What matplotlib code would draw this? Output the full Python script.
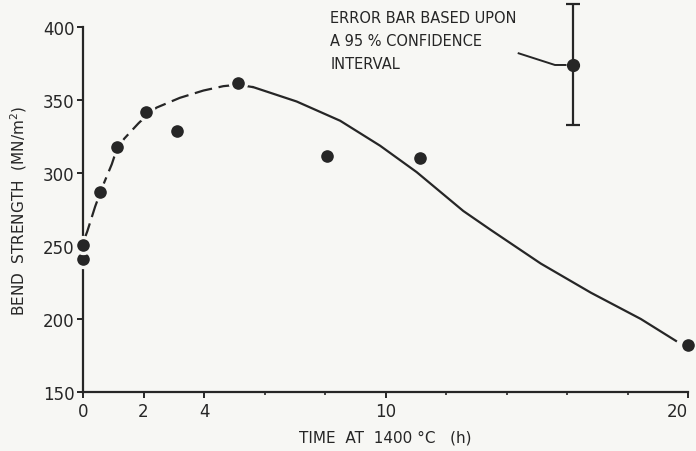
import matplotlib
matplotlib.use("Agg")
import matplotlib.pyplot as plt

# measured points (time h, bend strength MN/m2)
time_h = [0.0, 0.0, 0.56, 1.11, 2.08, 3.1, 5.13, 8.07, 11.14, 20.0]
strength = [241, 251, 287, 318, 342, 329, 361.5, 312, 310, 182]

# error bar example point
err_t = 16.2
err_val = 374
err_lo = 41
err_hi = 42

# hand-drawn trend curve
curve_t = [0.03, 0.14, 0.40, 0.56, 0.69, 0.95, 1.11, 1.36, 1.83, 2.08, 2.43,
           3.2, 3.98, 4.64, 5.13, 5.63, 7.06, 8.5, 9.82, 11.03, 12.57, 13.48,
           15.13, 16.79, 18.44, 19.6]
curve_v = [254, 260, 277, 286, 293, 306, 316, 323.5, 334, 339, 344.8,
           351.5, 356.5, 359.5, 360.5, 358.8, 349, 335.8, 318.7, 300.6, 274, 261,
           238, 218, 200, 185]
dash_end = 16  # curve index where dashes stop

xticks = [0, 2, 4, 10, 20]
xminor = [6, 8, 12, 14, 16, 18]
yticks = [150, 200, 250, 300, 350, 400]

ink = "#262626"
bg = "#f7f7f4"

fig = plt.figure(figsize=(6.96, 4.52), dpi=100, facecolor=bg)
ax = fig.add_axes([0.1193, 0.1305, 0.8693, 0.8075], facecolor=bg)

ax.plot(curve_t[:dash_end], curve_v[:dash_end], color=ink, lw=1.6,
        linestyle=(0, (8, 3)), clip_on=False, zorder=2)
ax.plot(curve_t[dash_end - 1:], curve_v[dash_end - 1:], color=ink, lw=1.6,
        clip_on=False, zorder=2)

ax.plot(time_h, strength, "o", color=ink, markersize=11.5, markeredgecolor=bg,
        markeredgewidth=2.4, clip_on=False, zorder=3)

ax.errorbar([err_t], [err_val], yerr=[[err_lo], [err_hi]], fmt="o", color=ink,
            markersize=8.5, markeredgecolor=ink, capsize=5, capthick=1.6,
            elinewidth=1.6, clip_on=False, zorder=3)

ax.text(8.17, 412, "ERROR BAR BASED UPON\nA 95 % CONFIDENCE\nINTERVAL",
        fontsize=10.5, color=ink, linespacing=1.68, va="top", ha="left")
ax.plot([14.4, 15.6, 15.95], [382, 374, 374], color=ink, lw=1.4, clip_on=False)

ax.set_xlim(0, 20)
ax.set_ylim(150, 400)
ax.set_xticks(xticks)
ax.set_xticks(xminor, minor=True)
ax.set_yticks(yticks)
ax.tick_params(axis="both", which="major", direction="out", length=4, width=1.4,
               colors=ink, labelsize=12)
ax.tick_params(axis="x", which="minor", direction="out", length=2.5, width=1.2,
               colors=ink)
ax.tick_params(axis="x", pad=3)
ax.tick_params(axis="y", pad=2)
ax.get_xticklabels()[-1].set_horizontalalignment("right")

for side in ["top", "right"]:
    ax.spines[side].set_visible(False)
for side in ["left", "bottom"]:
    ax.spines[side].set_linewidth(1.6)
    ax.spines[side].set_color(ink)

ax.set_xlabel("TIME  AT  1400 °C   (h)", fontsize=11, color=ink, labelpad=7)
ax.set_ylabel("BEND  STRENGTH  (MN/m$^{2}$)", fontsize=11, color=ink, labelpad=10)

fig.savefig("out.png", dpi=100, facecolor=bg)
